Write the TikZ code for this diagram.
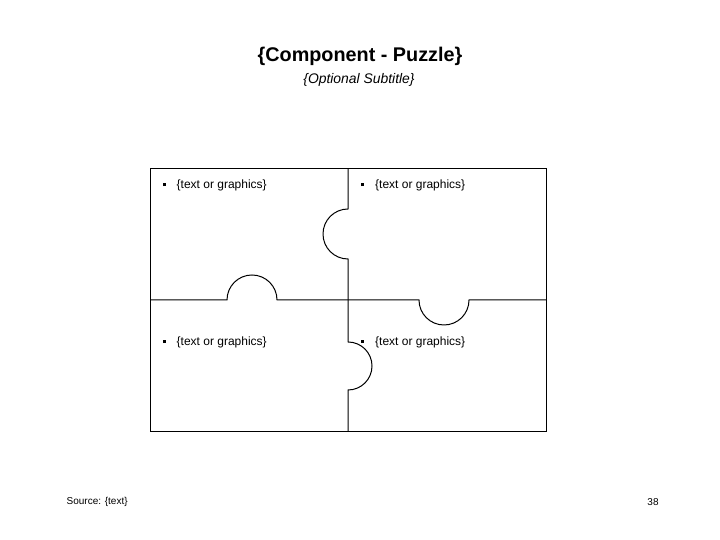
\documentclass[tikz,border=0pt]{standalone}
\usepackage{fontspec}
\setmainfont{Liberation Sans}
\tikzset{
  puzzleline/.style={line width=1pt, black},
  bullettext/.style={anchor=base west, inner sep=0pt, font=\fontsize{12}{14}\selectfont},
}
\newcommand{\sqbullet}{\makebox[14pt][l]{\raisebox{2.8pt}{\rule{3.2pt}{3.2pt}}}}
\begin{document}
\begin{tikzpicture}[x=1pt,y=1pt]
\useasboundingbox (0,0) rectangle (720,540);
% title
\node[anchor=base, inner sep=0pt, font=\fontsize{19.8}{22}\bfseries] (title) at (360,478.5) {\{Component - Puzzle\}};
\node[anchor=base, inner sep=0pt, font=\fontsize{13.9}{16}\itshape] (subtitle) at (359,456.7) {\{Optional Subtitle\}};
% frame
\draw[puzzleline] (150.5,108.5) rectangle (546.5,371.5);
% horizontal cut with knobs
\draw[puzzleline] (150.5,240) -- (227,240) arc[start angle=180, end angle=0, radius=25]
  -- (419,240) arc[start angle=180, end angle=360, radius=25] -- (546.5,240);
% vertical cut with knobs
\draw[puzzleline] (348,371.5) -- (348,331) arc[start angle=90, end angle=270, radius=25]
  -- (348,198) arc[start angle=90, end angle=-90, radius=24] -- (348,108.5);
% texts
\node[bullettext] (tl) at (162.5,351) {\sqbullet\{text or graphics\}};
\node[bullettext] (tr) at (361,351) {\sqbullet\{text or graphics\}};
\node[bullettext] (bl) at (162.5,194) {\sqbullet\{text or graphics\}};
\node[bullettext] (br) at (361,194) {\sqbullet\{text or graphics\}};
% footer
\node[anchor=base west, inner sep=0pt, font=\fontsize{10}{12}\selectfont] (source) at (66.5,35.5) {Source: \{text\}};
\node[anchor=base, inner sep=0pt, font=\fontsize{10}{12}\selectfont] (page) at (653,34.7) {38};
\end{tikzpicture}
\end{document}
